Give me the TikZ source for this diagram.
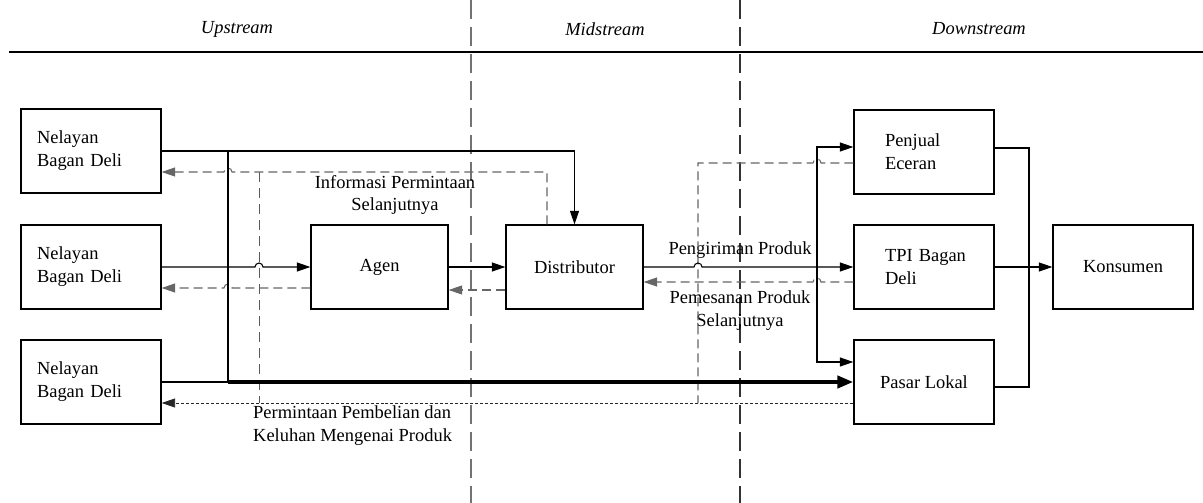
\documentclass[tikz,border=0pt]{standalone}
\usepackage{fontspec}
\setmainfont{Liberation Serif}
\usetikzlibrary{arrows.meta,calc}
\begin{document}
\begin{tikzpicture}[x=0.02cm,y=-0.02cm,
  txt/.style={font=\fontsize{10.5}{13}\selectfont},
  box/.style={txt,draw,line width=0.75pt,minimum width=2.8cm,minimum height=1.68cm,inner sep=0pt,align=center},
  lbox/.style={box,align=left,text width=2.16cm,inner xsep=0.32cm},
  conn/.style={line width=0.6pt},
  tip/.style={-{Triangle[length=0.27cm,width=0.18cm]}},
  bigtip/.style={-{Triangle[length=0.32cm,width=0.24cm]}},
  dsh/.style={line width=0.6pt,draw=black!60,dash pattern=on 0.18cm off 0.1cm},
  vdsh/.style={line width=0.5pt,draw=black!65,dash pattern=on 0.2cm off 0.12cm},
  dot/.style={line width=0.5pt,draw=black!85,dash pattern=on 0.06cm off 0.04cm},
  sep/.style={line width=0.7pt,dash pattern=on 0.38cm off 0.16cm},
  hd/.style={txt,font=\fontsize{10.5}{13}\selectfont\itshape}
]
\useasboundingbox (0,0) rectangle (1203,503);
% header
\draw[sep,draw=black!55] (471,0) coordinate (s1a) -- (471,503) coordinate (s1b);
\draw[sep,draw=black!80] (740,0) coordinate (s2a) -- (740,503) coordinate (s2b);
\draw[line width=1.1pt] (9,52) coordinate (h1) -- (1203,52) coordinate (h2);
\node[hd] (up) at (237,29) {Upstream};
\node[hd] (mid) at (605,29) {Midstream};
\node[hd] (down) at (979,29) {Downstream};
% boxes
\node[lbox] (N1) at (91,151) {Nelayan\\Bagan Deli};
\node[lbox] (N2) at (91,267) {Nelayan\\Bagan Deli};
\node[lbox] (N3) at (91,382) {Nelayan\\Bagan Deli};
\node[box,minimum width=2.74cm] (Ag) at (379.5,267) {Agen};
\node[box,minimum width=2.74cm] (Di) at (574.5,267) {Distributor};
\node[lbox] (Pe) at (924,152) {\hspace*{0.3cm}Penjual\\\hspace*{0.3cm}Eceran};
\node[lbox] (TP) at (924,267) {\hspace*{0.3cm}TPI Bagan\\\hspace*{0.3cm}Deli};
\node[box] (Pa) at (924,382) {Pasar Lokal};
\node[box] (Ko) at (1123,267) {Konsumen};
% labels
\node[txt,align=center] (L1) at (395,195) {Informasi Permintaan\\Selanjutnya};
\node[txt] (L2) at (740,250) {Pengiriman Produk};
\node[txt,align=center] (L3) at (740,311) {Pemesanan Produk\\Selanjutnya};
\node[txt,align=left,anchor=west] (L4) at (247,426) {Permintaan Pembelian dan\\Keluhan Mengenai Produk};
\coordinate (J) at (228,382);
\coordinate (B) at (817,267);
\coordinate (R) at (1029,267);
% dashed feedback lines
\draw[vdsh] (259,172) -- (259,403);
\draw[dsh,tip] ($(Di.north)+(-27.5,0)$) -- (547,172) -- (232,172)
  arc[start angle=0,end angle=180,radius=0.08cm] -- ($(N1.east)+(0,21)$);
\draw[dsh,tip] ($(Ag.west)+(0,21)$) -- (232,288)
  arc[start angle=0,end angle=180,radius=0.08cm] -- ($(N2.east)+(0,21)$);
\draw[dsh,tip] ($(Di.west)+(0,23)$) -- ($(Ag.east)+(0,23)$);
\draw[dot,tip] ($(Pa.west)+(0,21)$) -- ($(N3.east)+(0,21)$);
\draw[dsh] ($(Pe.west)+(0,11)$) -- (821,163)
  arc[start angle=0,end angle=180,radius=0.08cm] -- (698,163) -- (698,403);
\draw[dsh,tip] ($(TP.west)+(0,15)$) -- (821,282)
  arc[start angle=0,end angle=180,radius=0.08cm] -- ($(Di.east)+(0,15)$);
% solid flows
\draw[conn,tip] (N1.east) -| (Di.north);
\draw[conn] (N1.east -| J) -- (J);
\draw[conn] (N3.east) -- (J);
\draw[line width=2.4pt,bigtip] (J) -- (Pa.west);
\draw[conn,tip] (N2.east) -- (255,267)
  arc[start angle=180,end angle=0,radius=0.08cm] -- (Ag.west);
\draw[conn,tip] (Ag.east) -- (Di.west);
\draw[conn,tip] (Di.east) -- (694,267)
  arc[start angle=180,end angle=0,radius=0.08cm] -- (TP.west);
\draw[conn,tip] (B) |- ($(Pe.west)+(0,-5)$);
\draw[conn,tip] (B) |- ($(Pa.west)+(0,-20)$);
\draw[conn] ($(Pe.east)+(0,-4)$) -| (R) |- ($(Pa.east)+(0,5)$);
\draw[conn,tip] (TP.east) -- (Ko.west);
\end{tikzpicture}
\end{document}
